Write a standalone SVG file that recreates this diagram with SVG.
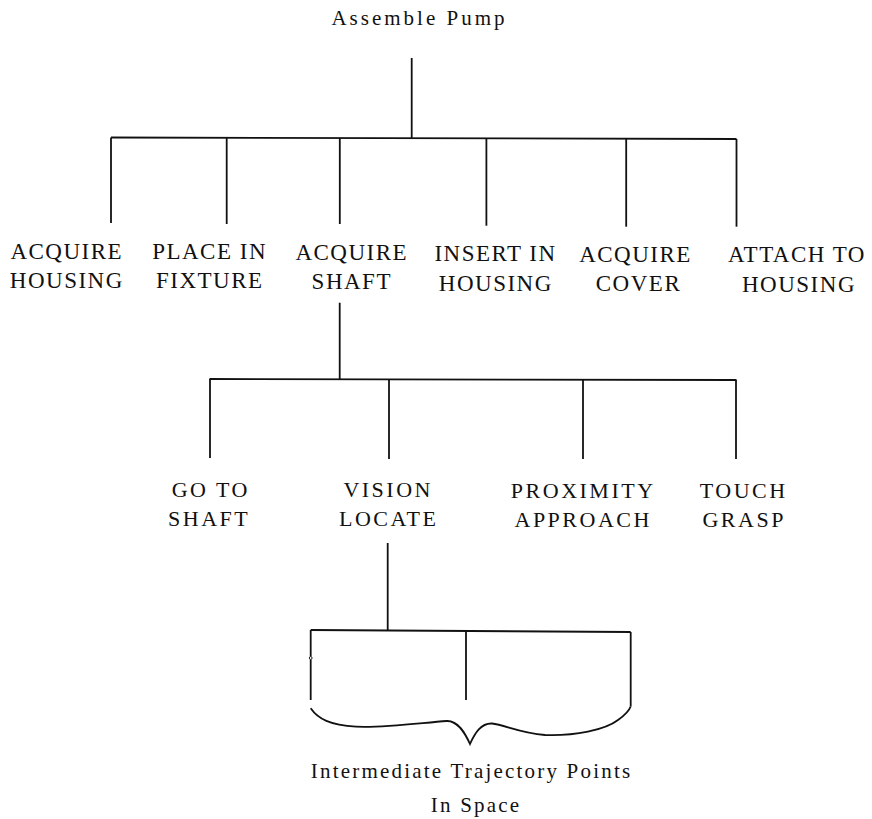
<svg xmlns="http://www.w3.org/2000/svg" width="872" height="819" viewBox="0 0 872 819">
<style>
  .bg { fill: #ffffff; }
  .ln { stroke: #111111; stroke-width: 1.8; fill: none; stroke-linecap: butt; }
  .t { font-family: "Liberation Serif", "Times New Roman", serif; fill: #111111; text-anchor: middle; }
  .title { font-size: 21px; letter-spacing: 3px; }
  .l1 { font-size: 23px; letter-spacing: 1.5px; }
  .l2 { font-size: 22px; letter-spacing: 2.5px; }
  .cap { font-size: 21px; letter-spacing: 2.2px; }
</style>
<rect class="bg" x="0" y="0" width="872" height="819"/>

<g id="connectors">
  <!-- level 1 -->
  <path class="ln" d="M411.7,58 L411.7,138.2"/>
  <path class="ln" d="M111,137.5 L736.5,139"/>
  <path class="ln" d="M111,137.5 L111,223"/>
  <path class="ln" d="M226.7,137.8 L226.7,224"/>
  <path class="ln" d="M339.8,138 L339.8,224"/>
  <path class="ln" d="M486.4,138.4 L486.4,225.7"/>
  <path class="ln" d="M626.2,138.7 L626.2,226.7"/>
  <path class="ln" d="M736.5,139 L736.5,226.7"/>
  <!-- level 2 -->
  <path class="ln" d="M339.7,302.7 L339.7,379.3"/>
  <path class="ln" d="M209.5,379 L736.5,380"/>
  <path class="ln" d="M210,379 L210,458"/>
  <path class="ln" d="M389,379.3 L389,459"/>
  <path class="ln" d="M583,379.7 L583,459"/>
  <path class="ln" d="M736,380 L736,459"/>
  <!-- level 3 -->
  <path class="ln" d="M387.7,543 L387.7,630.5"/>
  <path class="ln" d="M310.7,630 L630.7,632"/>
  <path class="ln" d="M310.7,630 L310.7,656.5 M310.7,659.5 L310.7,700"/>
  <circle cx="310.7" cy="658" r="1.4" fill="none" stroke="#111111" stroke-width="0.9"/>
  <path class="ln" d="M466,631 L466,700"/>
  <path class="ln" d="M630.7,632 L630.7,706.7"/>
  <!-- brace -->
  <path class="ln" d="M310.7,708.3 C318,719 330,725 356,726.7 C385,728 420,723 446.7,721 C458,720.5 465,733 470,744 C475,733 481,723 492,723.5 C505,725 520,733 545,735 C575,736 605,730 618,720 C625,715 629,711 630.5,706.7"/>
</g>

<g id="node-assemble-pump">
  <text class="t title" x="419.5" y="25">Assemble Pump</text>
</g>

<g id="node-acquire-housing">
  <text class="t l1" x="66.8" y="259">ACQUIRE</text>
  <text class="t l1" x="66.8" y="288">HOUSING</text>
</g>
<g id="node-place-in-fixture">
  <text class="t l1" x="209.6" y="259">PLACE IN</text>
  <text class="t l1" x="209.8" y="288">FIXTURE</text>
</g>
<g id="node-acquire-shaft">
  <text class="t l1" x="351.8" y="259.5">ACQUIRE</text>
  <text class="t l1" x="351.8" y="288.5">SHAFT</text>
</g>
<g id="node-insert-in-housing">
  <text class="t l1" x="495.5" y="261">INSERT IN</text>
  <text class="t l1" x="495.8" y="290.5">HOUSING</text>
</g>
<g id="node-acquire-cover">
  <text class="t l1" x="635.5" y="261.5">ACQUIRE</text>
  <text class="t l1" x="638.5" y="291">COVER</text>
</g>
<g id="node-attach-to-housing">
  <text class="t l1" x="797" y="261.7">ATTACH TO</text>
  <text class="t l1" x="799" y="291.7">HOUSING</text>
</g>

<g id="node-go-to-shaft">
  <text class="t l2" x="210.8" y="497">GO TO</text>
  <text class="t l2" x="209.2" y="526">SHAFT</text>
</g>
<g id="node-vision-locate">
  <text class="t l2" x="388.2" y="497">VISION</text>
  <text class="t l2" x="388.7" y="526">LOCATE</text>
</g>
<g id="node-proximity-approach">
  <text class="t l2" x="583.2" y="498">PROXIMITY</text>
  <text class="t l2" x="583.2" y="527">APPROACH</text>
</g>
<g id="node-touch-grasp">
  <text class="t l2" x="743.7" y="498">TOUCH</text>
  <text class="t l2" x="744.2" y="527">GRASP</text>
</g>

<g id="node-intermediate-points">
  <text class="t cap" x="471.6" y="778">Intermediate Trajectory Points</text>
  <text class="t cap" x="476.1" y="812">In Space</text>
</g>
</svg>
